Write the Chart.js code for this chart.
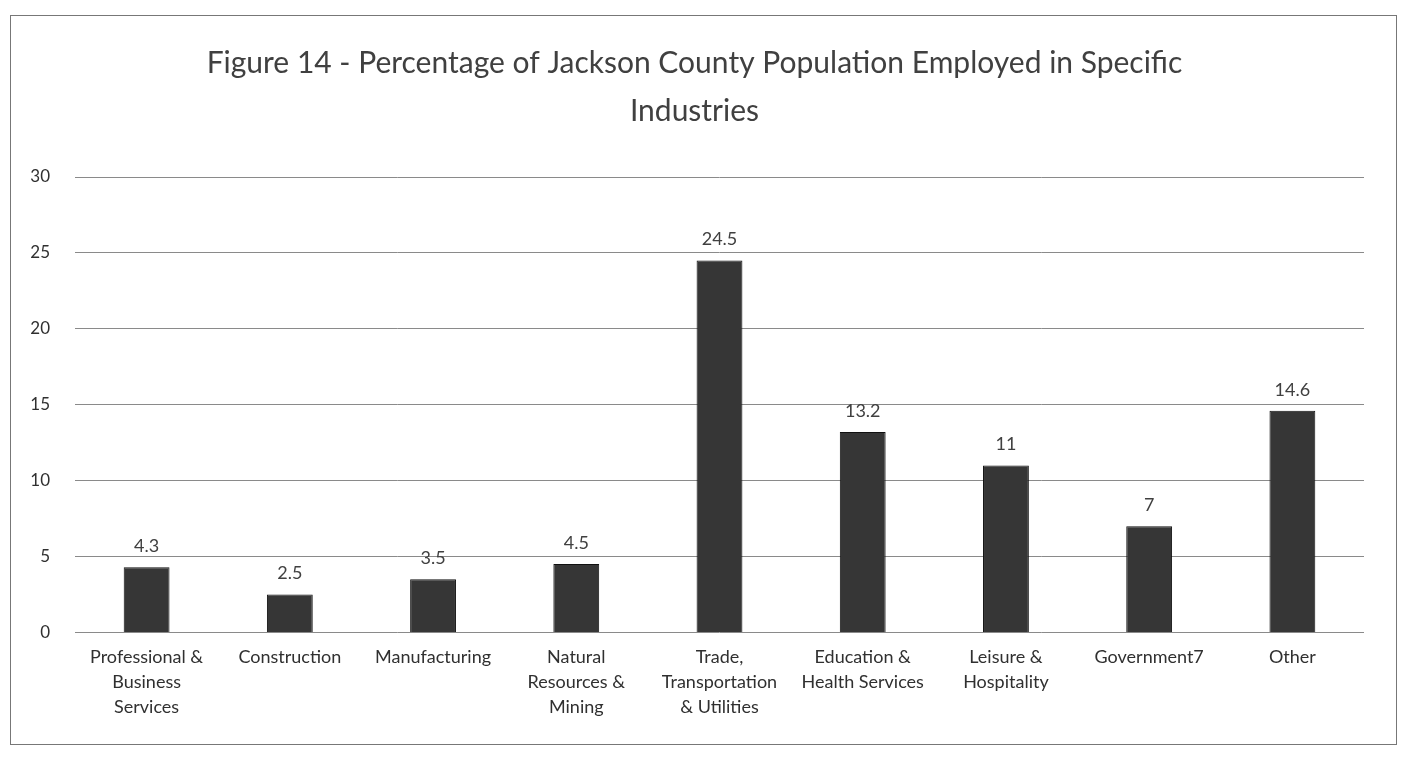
<!DOCTYPE html>
<html lang="en">
<head>
<meta charset="UTF-8">
<title>Figure 14</title>
<script src="https://cdn.jsdelivr.net/npm/chart.js"></script>
<style>
body{
  margin:0;
  background:#fff;
}
.box{
  position:absolute;
  left:10px;
  top:15px;
  width:1387px;
  height:730px;
  border:1px solid #777;
  box-sizing:border-box;
}
</style>
</head>
<body>

<div class="box">
  <canvas id="chart" width="1385" height="728"></canvas>
</div>

<script>
// data
const industries = [
  ["Professional &","Business","Services"],
  "Construction",
  "Manufacturing",
  ["Natural","Resources &","Mining"],
  ["Trade,","Transportation","& Utilities"],
  ["Education &","Health Services"],
  ["Leisure &","Hospitality"],
  "Government7",
  "Other"
];
const percentEmployed = [4.3, 2.5, 3.5, 4.5, 24.5, 13.2, 11, 7, 14.6];
const yTicks = [0, 5, 10, 15, 20, 25, 30];

const titleLines = [
  "Figure 14 - Percentage of Jackson County Population Employed in Specific",
  "Industries"
];

const FONT = "Lato, 'Open Sans', sans-serif";

// value labels above bars
const barValues = {
  id:'barValues',
  afterDatasetsDraw(chart){
    const ctx = chart.ctx;
    const meta = chart.getDatasetMeta(0);
    ctx.save();
    ctx.font = "18px " + FONT;
    ctx.fillStyle = "#404040";
    ctx.textAlign = "center";
    ctx.textBaseline = "bottom";
    meta.data.forEach((bar,i)=>{
      ctx.fillText(String(percentEmployed[i]), bar.x, bar.y - 12);
    });
    ctx.restore();
  }
};

new Chart(document.getElementById('chart'),{
  type:'bar',
  data:{
    labels:industries,
    datasets:[{
      data:percentEmployed,
      backgroundColor:'#363636',
      borderColor:'#111111',
      borderWidth:1,
      barPercentage:0.64,
      categoryPercentage:0.5
    }]
  },
  options:{
    responsive:false,
    animation:false,
    layout:{padding:{left:14, right:32, top:10, bottom:20}},
    plugins:{
      legend:{display:false},
      tooltip:{enabled:false},
      title:{
        display:true,
        text:titleLines,
        color:'#404040',
        font:{family:FONT, size:30, weight:'normal', lineHeight:1.6},
        padding:{top:13, bottom:42}
      }
    },
    scales:{
      x:{
        grid:{display:false},
        border:{display:false},
        ticks:{
          color:'#303030',
          font:{family:FONT, size:18, lineHeight:1.4},
          maxRotation:0,
          autoSkip:false,
          padding:4
        }
      },
      y:{
        min:0,
        max:30,
        afterBuildTicks(axis){
          axis.ticks = yTicks.map(v=>({value:v}));
        },
        afterFit(axis){
          axis.width = 50;
        },
        grid:{color:'#8a8a8a', lineWidth:1, drawTicks:false},
        border:{display:false},
        ticks:{
          color:'#303030',
          font:{family:FONT, size:17},
          padding:25
        }
      }
    }
  },
  plugins:[barValues]
});
</script>

</body>
</html>
